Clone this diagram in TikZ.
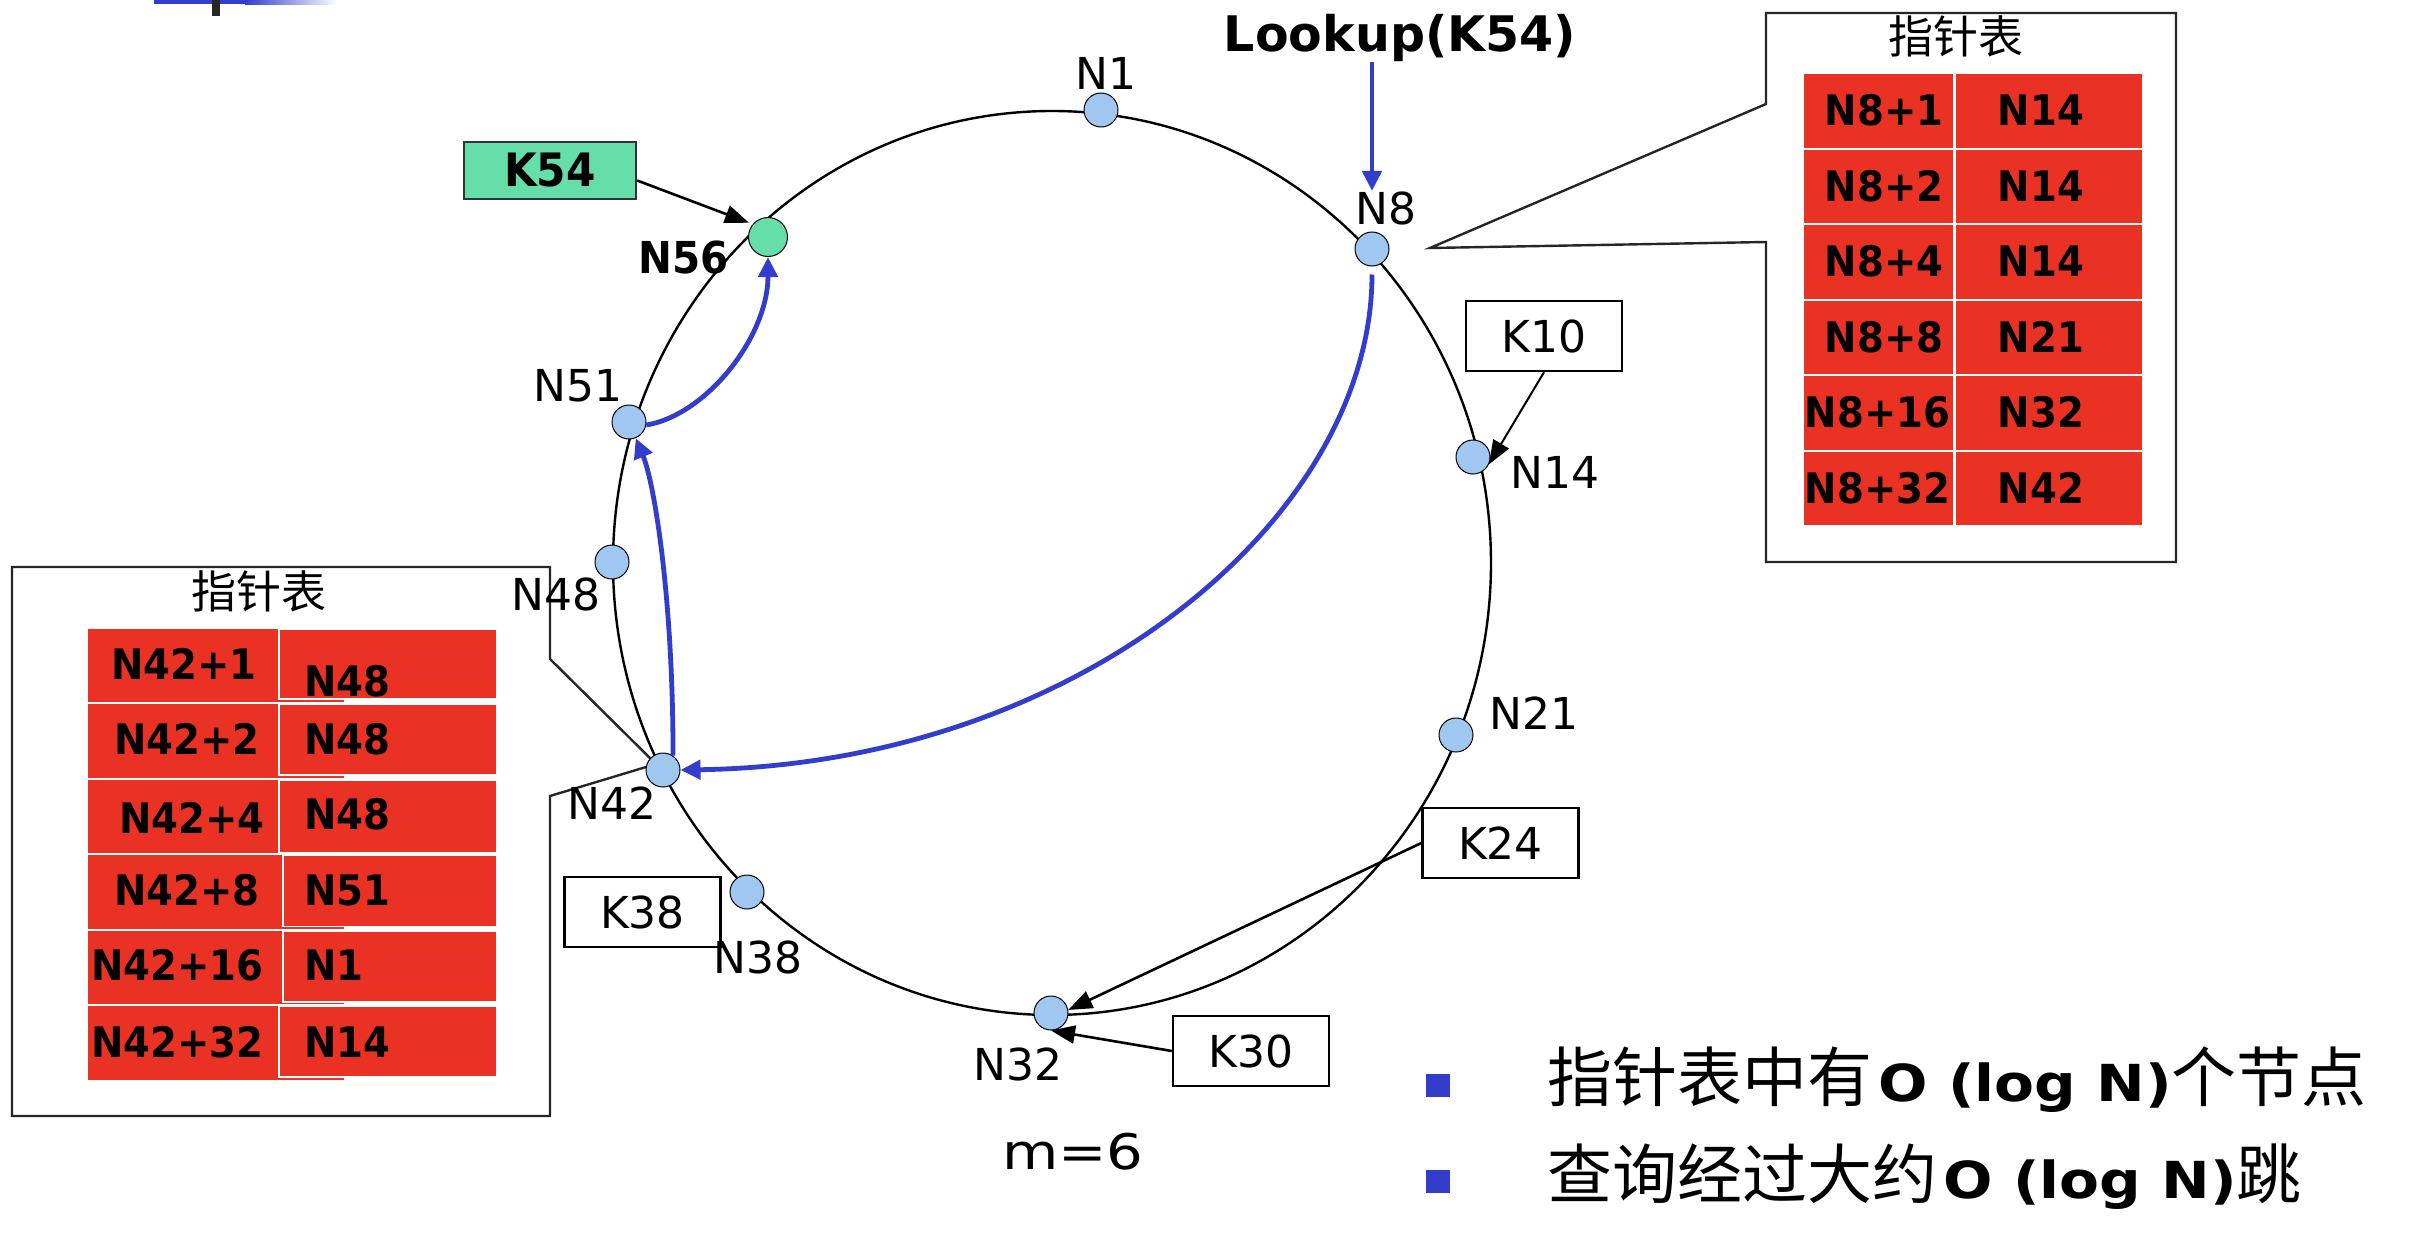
\documentclass[tikz,border=0pt]{standalone}
\usepackage{fontspec}
\setmainfont{DejaVu Sans}
\newfontfamily\cjk{Noto Sans CJK SC}
\newfontfamily\narrowfont{DejaVu Sans}[FakeStretch=0.92]
\newfontfamily\widefont{DejaVu Sans}[FakeStretch=1.18]
\newfontfamily\bulletbold{DejaVu Sans}[FakeStretch=1.14]
\usetikzlibrary{arrows.meta,calc}
\definecolor{cellred}{RGB}{233,50,35}
\definecolor{dotblue}{RGB}{160,199,240}
\definecolor{keygreen}{RGB}{102,222,170}
\definecolor{arrowblue}{RGB}{51,61,204}
\begin{document}
\begin{tikzpicture}[x=0.5pt,y=-0.5pt,
  ringline/.style={line width=1.2pt},
  ringdot/.style={circle,draw=black,line width=0.5pt,fill=dotblue,minimum size=17pt,inner sep=0pt},
  keydot/.style={ringdot,fill=keygreen,minimum size=19.5pt},
  lbl/.style={inner sep=0pt,anchor=base,font=\fontsize{22}{26}\selectfont},
  keybox/.style={draw=black,line width=1.2pt,minimum width=78pt,minimum height=35pt,inner sep=0pt,font=\fontsize{22}{26}\selectfont},
  calloutline/.style={draw=black!85,line width=1.2pt,fill=white,line join=miter},
  cell/.style={fill=cellred,inner sep=0pt,minimum height=36.7pt},
  celltxt/.style={inner sep=0pt,font=\narrowfont\bfseries\fontsize{21}{25}\selectfont},
  tabtitle/.style={inner sep=0pt,font=\cjk\fontsize{22.5}{26}\selectfont},
  barrow/.style={draw=arrowblue,line width=2.4pt,-{Triangle[length=10pt,width=9.5pt]}},
  karrow/.style={draw=black,line width=1.3pt,-{Triangle[length=12pt,width=9pt]}},
  bullet/.style={fill=arrowblue,minimum width=12pt,minimum height=11.5pt,inner sep=0pt},
  bullettext/.style={inner sep=0pt,anchor=base west,font=\cjk\fontsize{32.5}{36}\selectfont},
]
\useasboundingbox (0,0) rectangle (2422,1242);
\fill[white] (0,0) rectangle (2422,1242);

% title fragment at top left
\fill[arrowblue] (154,0) rectangle (246,4);
\shade[left color=arrowblue,right color=white] (245,0) rectangle (337,4);
\fill[black!85] (212,0) rectangle (220,16);

% callouts
\draw[calloutline] (1766,13) -- (2176,13) -- (2176,562) -- (1766,562) -- (1766,242) -- (1430,248) -- (1766,104) -- cycle;
\draw[calloutline] (12,567) -- (550,567) -- (550,659) -- (656,764) -- (550,796) -- (550,1116) -- (12,1116) -- cycle;

\node[tabtitle] (tt1) at (1956,36) {指针表};
\node[tabtitle] (tt2) at (259,591) {指针表};

% right finger table
\foreach \i/\txa/\txb/\xa in {0/N8+1/N14/1884, 1/N8+2/N14/1884, 2/N8+4/N14/1884, 3/N8+8/N21/1884, 4/N8+16/N32/1877.5, 5/N8+32/N42/1877.5}{
  \pgfmathsetmacro\rt{73.9+75.45*\i}
  \node[cell,anchor=north west,minimum width=74.65pt] (ra\i) at (1803.7,\rt) {};
  \node[cell,anchor=north west,minimum width=93pt] (rb\i) at (1956,\rt) {};
  \node[celltxt,anchor=base] (rta\i) at (\xa,\rt+52) {\txa};
  \node[celltxt,anchor=base west] (rtb\i) at (1997.5,\rt+52) {\txb};
}

% left finger table
\foreach \i/\txa/\txb/\xa/\ya/\yb/\xb/\hb in {
 0/N42+1/N48/184/51.2/67.7/278/70,
 1/N42+2/N48/187/51/51/278/70.5,
 2/N42+4/N48/192/54.3/50.3/278/73,
 3/N42+8/N51/187/50.5/50.5/282/70.9,
 4/N42+16/N1/177.5/50.4/50.4/282/70.9,
 5/N42+32/N14/177.5/52.1/52.1/278/70.4}{
  \pgfmathsetmacro\rt{628.3+75.5*\i}
  \pgfmathsetmacro\wb{(496-\xb)*0.5}
  \pgfmathsetmacro\hh{\hb*0.5}
  \node[cell,anchor=north west,minimum width=128pt] (la\i) at (88,\rt) {};
  \node[cell,draw=white,line width=0.8pt,anchor=north west,minimum width=\wb pt,minimum height=\hh pt] (lb\i) at (\xb,\rt) {};
  \node[celltxt,anchor=base] (lta\i) at (\xa,\rt+\ya) {\txa};
  \node[celltxt,anchor=base west] (ltb\i) at (303.6,\rt+\yb) {\txb};
}

% ring
\coordinate (ringc) at (1052,563);
\draw[ringline] (ringc) ellipse [x radius=219.5pt, y radius=226pt];

% ring nodes
\node[ringdot] (n1) at (1101,110) {};
\node[ringdot] (n8) at (1372,249) {};
\node[ringdot] (n14) at (1473,457) {};
\node[ringdot] (n21) at (1456,735) {};
\node[ringdot] (n32) at (1051,1013) {};
\node[ringdot] (n38) at (747,892) {};
\node[ringdot] (n42) at (663,770) {};
\node[ringdot] (n48) at (612,562) {};
\node[ringdot] (n51) at (629,422) {};
\node[keydot] (n56) at (768,237) {};

% node labels
\node[lbl] (l1) at (1106,89.5) {N1};
\node[lbl] (l8) at (1386,224) {N8};
\node[lbl] (l14) at (1555,488) {N14};
\node[lbl] (l21) at (1534,729) {N21};
\node[lbl] (l32) at (1018,1080) {N32};
\node[lbl] (l38) at (758,973) {N38};
\node[lbl] (l42) at (612,819) {N42};
\node[lbl] (l48) at (556,610) {N48};
\node[lbl] (l51) at (578,401) {N51};
\node[lbl,font=\narrowfont\bfseries\fontsize{22}{26}\selectfont] (l56) at (684,273) {N56};

\node[inner sep=0pt,anchor=base,font=\bfseries\fontsize{24.5}{28}\selectfont] (lookup) at (1400,51.7) {Lookup(K54)};

% key boxes
\node[keybox] (k10) at (1544,336) {K10};
\node[keybox] (k24) at (1500.5,843) {K24};
\node[keybox] (k30) at (1251,1051) {K30};
\node[keybox] (k38) at (642.5,912) {K38};
\node[keybox,fill=keygreen,draw=black!80,minimum width=86pt,minimum height=28.5pt,font=\narrowfont\bfseries\fontsize{23}{26}\selectfont] (k54) at (550,170.5) {K54};

\node[inner sep=0pt,anchor=base,font=\widefont\fontsize{24.5}{28}\selectfont] (mval) at (1073,1169) {m=6};

% blue lookup path
\draw[barrow] (lookup.south -| n8) -- (l8.north -| n8);
\draw[barrow,shorten <=4pt] (n8.south) .. controls +(0,250) and +(400,-6) .. (n42.east);
\draw[barrow] (n42.55) .. controls +(0,-160) and +(25,60) .. (n51);
\draw[barrow] (n51.-10) .. controls +(60,-10) and +(0,80) .. (n56.south);

% key arrows
\draw[karrow,shorten >=2pt] ($(k54.east)+(0,10)$) -- (n56.140);
\draw[karrow,line width=1pt] (k10.south) -- (n14.-25);
\draw[karrow] (k24.west) -- (n32.10);
\draw[karrow] (k30.west) -- (n32.south);

% bullets
\node[bullet] (b1) at (1438,1085.5) {};
\node[bullet] (b2) at (1438,1181) {};
\node[bullettext] (t1) at (1547,1101) {指针表中有\hspace{3pt}{\bulletbold\bfseries\fontsize{25.5}{30}\selectfont O (log N)}个节点};
\node[bullettext] (t2) at (1547,1198) {查询经过大约\hspace{3pt}{\bulletbold\bfseries\fontsize{25.5}{30}\selectfont O (log N)}跳};
\end{tikzpicture}
\end{document}
